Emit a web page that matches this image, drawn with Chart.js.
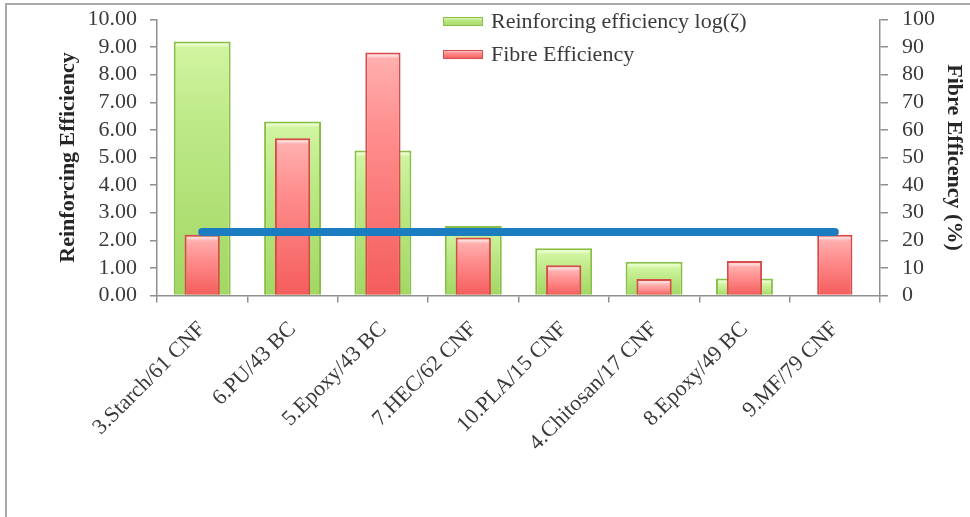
<!DOCTYPE html>
<html>
<head>
<meta charset="utf-8">
<script src="https://cdn.jsdelivr.net/npm/chart.js@4.4.1/dist/chart.umd.min.js"></script>
<style>
  html, body { margin: 0; padding: 0; background: #ffffff; }
  #wrap { position: relative; width: 970px; height: 517px; overflow: hidden; }
  #frame { position: absolute; left: 5px; top: 3px; right: -10px; bottom: -10px;
           border-top: 2px solid #a8a8a8; border-left: 2px solid #a8a8a8; }
  canvas { position: absolute; left: 0; top: 0; }
</style>
</head>
<body>
<div id="wrap">
  <div id="frame"></div>
  <canvas id="chart" width="970" height="517"></canvas>
</div>
<script>
// Composite / filler systems
const categories = [
  '3.Starch/61 CNF', '6.PU/43 BC', '5.Epoxy/43 BC', '7.HEC/62 CNF',
  '10.PLA/15 CNF', '4.Chitosan/17 CNF', '8.Epoxy/49 BC', '9.MF/79 CNF'
];

// Reinforcing efficiency log(zeta), left axis
const reinforcingEfficiency = [9.2, 6.3, 5.25, 2.52, 1.71, 1.22, 0.62, 0];

// Fibre efficiency (%), right axis
const fibreEfficiency = [22, 57, 88, 21, 11, 6, 12.5, 22];

// Horizontal reference level (%), right axis
const referenceLevel = [23, 23, 23, 23, 23, 23, 23, 23];

// Axis tick labels
const leftTickLabels = ['0.00', '1.00', '2.00', '3.00', '4.00', '5.00', '6.00', '7.00', '8.00', '9.00', '10.00'];
const rightTickLabels = ['0', '10', '20', '30', '40', '50', '60', '70', '80', '90', '100'];

const FONT = "'Liberation Serif', 'Times New Roman', serif";
const TEXT = '#3a3a3a';
const AXIS = '#8f8f8f';

const GREEN = { cap: '#ecffcc', top: '#d0f4a0', mid: '#bde987', bottom: '#a2d763', edge: '#88bf47' };
const RED   = { cap: '#ffdede', top: '#ffaeae', mid: '#ff8e8e', bottom: '#f45c5c', edge: '#d94a4a' };

// Vertical gradient for a single bar, spanning from its top to the zero line
function barFill(pal) {
  return (ctx) => {
    const chart = ctx.chart;
    if (!chart.chartArea || ctx.type !== 'data') return pal.mid;
    const meta = chart.getDatasetMeta(ctx.datasetIndex);
    const scale = chart.scales[meta.yAxisID];
    const top = scale.getPixelForValue(ctx.raw);
    const base = scale.getPixelForValue(0);
    if (!isFinite(top) || Math.abs(base - top) < 1) return pal.mid;
    const h = base - top;
    const g = chart.ctx.createLinearGradient(0, top, 0, base);
    const capStop = Math.min(0.4, 6 / h);
    g.addColorStop(0, pal.top);
    g.addColorStop(capStop * 0.5, pal.cap);
    g.addColorStop(capStop, pal.top);
    g.addColorStop(Math.min(0.9, capStop + 0.3), pal.mid);
    g.addColorStop(1, pal.bottom);
    return g;
  };
}

// Keep the vertical axes from reserving extra room above/below the plot
function trimVerticalPadding(scale) {
  scale.paddingTop = 0;
  scale.paddingBottom = 0;
}

// Legend drawn inside the plot area, near the top
const innerLegend = {
  id: 'innerLegend',
  afterDraw(chart) {
    const c = chart.ctx;
    const rows = [
      { label: chart.data.datasets[1].label, pal: GREEN, y: 22 },
      { label: chart.data.datasets[2].label, pal: RED, y: 55 }
    ];
    c.save();
    rows.forEach(r => {
      const x = 443, w = 40, h = 9, y0 = r.y - 5;
      const g = c.createLinearGradient(0, y0, 0, y0 + h);
      g.addColorStop(0, r.pal.cap);
      g.addColorStop(0.35, r.pal.mid);
      g.addColorStop(1, r.pal.bottom);
      c.fillStyle = g;
      c.fillRect(x, y0, w, h);
      c.strokeStyle = r.pal.edge;
      c.lineWidth = 1;
      c.strokeRect(x + 0.5, y0 + 0.5, w - 1, h - 1);
      c.fillStyle = TEXT;
      c.font = '22px ' + FONT;
      c.textAlign = 'left';
      c.textBaseline = 'middle';
      c.fillText(r.label, 491, r.y);
    });
    c.restore();
  }
};

new Chart(document.getElementById('chart'), {
  type: 'bar',
  data: {
    labels: categories,
    datasets: [
      {
        type: 'line',
        label: 'Reference level',
        data: referenceLevel,
        yAxisID: 'y2',
        borderColor: '#1b7dc0',
        borderWidth: 8,
        borderCapStyle: 'round',
        pointRadius: 0,
        fill: false,
        order: 0
      },
      {
        label: 'Reinforcing efficiency log(\u03B6)',
        data: reinforcingEfficiency,
        yAxisID: 'y',
        backgroundColor: barFill(GREEN),
        borderColor: GREEN.edge,
        borderWidth: 2,
        borderSkipped: 'bottom',
        grouped: false,
        categoryPercentage: 1,
        barPercentage: 0.63,
        order: 2
      },
      {
        label: 'Fibre Efficiency',
        data: fibreEfficiency,
        yAxisID: 'y2',
        backgroundColor: barFill(RED),
        borderColor: RED.edge,
        borderWidth: 2,
        borderSkipped: 'bottom',
        grouped: false,
        categoryPercentage: 1,
        barPercentage: 0.39,
        order: 1
      }
    ]
  },
  options: {
    responsive: false,
    devicePixelRatio: 1,
    animation: false,
    layout: { padding: { left: 0, right: 0, top: 19.5, bottom: 0 } },
    plugins: {
      legend: { display: false },
      tooltip: { enabled: false }
    },
    scales: {
      x: {
        offset: true,
        grid: { display: true, drawOnChartArea: false, offset: true, tickLength: 7, color: AXIS, lineWidth: 1.5 },
        border: { display: true, color: AXIS, width: 1.5 },
        ticks: {
          color: TEXT, font: { family: FONT, size: 22 },
          minRotation: 45, maxRotation: 45, autoSkip: false, padding: 14
        },
        afterFit(scale) { scale.height = 517 - 295.5; }
      },
      y: {
        position: 'left',
        min: 0, max: 10,
        ticks: {
          stepSize: 1, autoSkip: false, color: TEXT, font: { family: FONT, size: 22 }, padding: 13,
          callback: (v, i) => leftTickLabels[i]
        },
        grid: { drawOnChartArea: false, tickLength: 7, color: AXIS, lineWidth: 1.5 },
        border: { display: true, color: AXIS, width: 1.5 },
        title: {
          display: true, text: 'Reinforcing Efficiency', color: '#262626',
          font: { family: FONT, size: 22, weight: 'bold' }, padding: { top: 55, bottom: 0 }
        },
        afterFit(scale) { scale.width = 157; trimVerticalPadding(scale); }
      },
      y2: {
        position: 'right',
        min: 0, max: 100,
        ticks: {
          stepSize: 10, autoSkip: false, color: TEXT, font: { family: FONT, size: 22 }, padding: 14,
          callback: (v, i) => rightTickLabels[i]
        },
        grid: { drawOnChartArea: false, tickLength: 8, color: AXIS, lineWidth: 1.5 },
        border: { display: true, color: AXIS, width: 1.5 },
        title: {
          display: true, text: 'Fibre Efficency (%)', color: '#262626',
          font: { family: FONT, size: 22, weight: 'bold' }, padding: { top: 3, bottom: 0 }
        },
        afterFit(scale) { scale.width = 90; trimVerticalPadding(scale); }
      }
    }
  },
  plugins: [innerLegend]
});
</script>
</body>
</html>
